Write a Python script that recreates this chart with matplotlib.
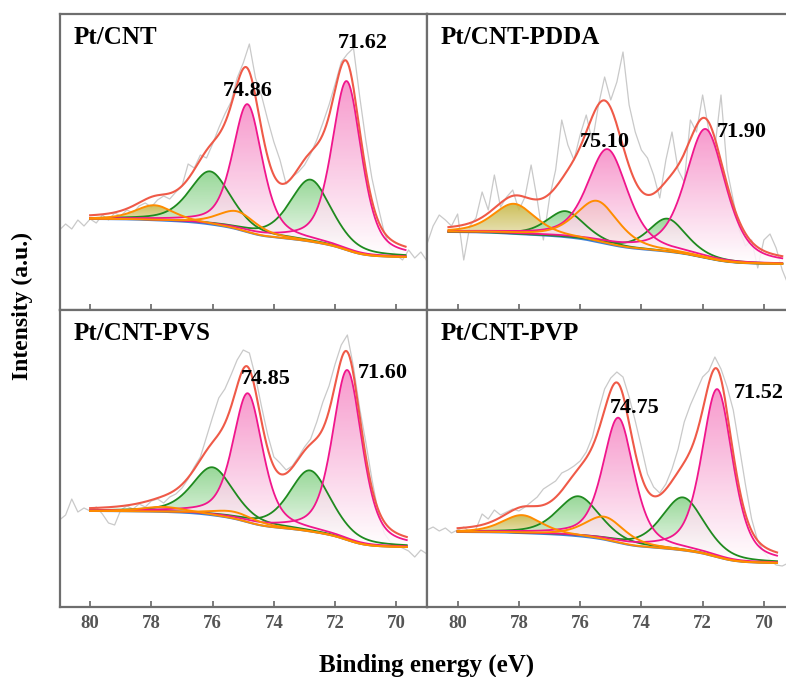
import numpy as np
import matplotlib
matplotlib.use('Agg')
import matplotlib.pyplot as plt
from matplotlib.colors import LinearSegmentedColormap

plt.rcParams['font.family'] = ['Liberation Serif', 'DejaVu Serif']
plt.rcParams['font.weight'] = 'bold'

samples = ['Pt/CNT', 'Pt/CNT-PDDA', 'Pt/CNT-PVS', 'Pt/CNT-PVP']

# fit window and Shirley background end levels
fit_hi = [80.0, 80.3, 80.0, 80.0]
fit_lo = [69.7, 69.4, 69.66, 69.57]
bg_hi = [91, 78, 96, 75]
bg_lo = [53, 46, 60, 44]

# Pt(0) 4f7/2 and 4f5/2 (pink)
pt0_a_pos = [71.62, 71.90, 71.60, 71.52]
pt0_a_h = [169, 129, 170, 168]
pt0_b_pos = [74.86, 75.10, 74.85, 74.75]
pt0_b_h = [128, 95, 129, 125]
pt0_w = [1.15, 1.55, 1.15, 1.2]

# Pt(II) (green)
pt2_a_pos = [72.80, 73.15, 72.82, 72.64]
pt2_a_h = [62, 33, 61, 53]
pt2_b_pos = [76.08, 76.47, 76.00, 76.05]
pt2_b_h = [53, 26, 48, 40]
pt2_w = [1.6, 1.45, 1.6, 1.65]

# Pt(IV) (orange)
pt4_a_pos = [75.20, 75.44, 75.30, 75.20]
pt4_a_h = [18, 41, 7, 23]
pt4_b_pos = [77.90, 78.16, 77.60, 77.90]
pt4_b_h = [15, 30, 5, 18]
pt4_w = [1.5, 1.65, 1.7, 1.55]

# raw spectra, 81.0 -> 69.0 eV every 0.2 eV
raw_be = np.linspace(81.0, 69.0, 61)
raw_cnt = [80, 86, 81, 90, 84, 91, 87, 95, 90, 97,
           94, 100, 97, 104, 107, 103, 110, 114, 111, 118,
           124, 146, 142, 155, 152, 166, 182, 196, 208, 232,
           247, 266, 232, 214, 190, 168, 150, 126, 133, 138,
           145, 156, 170, 187, 205, 226, 248, 256, 262, 214,
           170, 132, 104, 78, 62, 55, 50, 60, 52, 58, 49]
raw_pdda = [66, 84, 95, 90, 84, 96, 50, 84, 92, 118,
            100, 135, 103, 113, 120, 100, 113, 145, 110, 70,
            112, 140, 190, 165, 150, 175, 195, 168, 205, 233,
            210, 228, 258, 205, 178, 160, 152, 135, 112, 150,
            178, 140, 128, 190, 178, 215, 180, 162, 215, 140,
            110, 80, 64, 70, 42, 70, 76, 62, 40, 25, 10]
raw_pvs = [87, 92, 108, 95, 99, 96, 100, 93, 84, 82,
           97, 101, 98, 103, 100, 106, 108, 104, 110, 113,
           119, 128, 140, 150, 170, 190, 209, 218, 232, 247,
           257, 254, 230, 200, 172, 150, 144, 137, 141, 150,
           160, 168, 185, 205, 221, 243, 262, 272, 240, 199,
           165, 128, 96, 74, 65, 62, 59, 56, 50, 57, 53]
raw_pvp = [77, 80, 76, 79, 74, 77, 80, 75, 78, 93,
           88, 97, 92, 95, 98, 96, 100, 105, 110, 118,
           122, 126, 134, 137, 141, 146, 155, 170, 196, 218,
           229, 235, 230, 210, 186, 160, 133, 120, 114, 123,
           138, 158, 185, 202, 216, 230, 236, 250, 238, 220,
           197, 160, 122, 88, 66, 55, 47, 42, 41, 44, 40]
raw_all = [raw_cnt, raw_pdda, raw_pvs, raw_pvp]

# where the peak labels sit (eV, intensity)
lab_b_xy = [(74.84, 219), (75.21, 168), (74.26, 228), (74.23, 199)]
lab_a_xy = [(71.09, 267), (70.72, 178), (70.43, 234), (70.16, 214)]

ylims = [296, 296, 297, 297]


def pvoigt(e, c, h, w, eta=0.5):
    d = (e - c) / w
    return h * ((1 - eta) * np.exp(-4 * np.log(2) * d ** 2) + eta / (1 + 4 * d ** 2))


pink_cm = LinearSegmentedColormap.from_list('pk', ['#ffffff', '#f688c4'])
green_cm = LinearSegmentedColormap.from_list('gn', ['#ffffff', '#86d186'])
olive_cm = LinearSegmentedColormap.from_list('ol', ['#f6f2e0', '#c4b43c'])


def grad_fill(ax, e, base, top, cmap):
    poly = ax.fill_between(e, base, top, facecolor='none', edgecolor='none')
    m = (top - base) > 0.5
    y0, y1 = base[m].min(), top.max()
    grad = np.linspace(0, 1, 256).reshape(-1, 1)
    img = ax.imshow(grad, cmap=cmap, aspect='auto', origin='lower',
                    extent=[e.min(), e.max(), y0, y1], alpha=0.85, zorder=2)
    img.set_clip_path(poly.get_paths()[0], transform=ax.transData)


fig = plt.figure(figsize=(7.86, 6.77), dpi=100)
W = 367.5 / 786
pos = [(59.5 / 786, 367 / 677, W, 296 / 677),
       (427 / 786, 367 / 677, W, 296 / 677),
       (59.5 / 786, 70 / 677, W, 297 / 677),
       (427 / 786, 70 / 677, W, 297 / 677)]

for i in range(4):
    ax = fig.add_axes(pos[i])
    e = np.linspace(fit_lo[i], fit_hi[i], 700)

    comps = [
        (pvoigt(e, pt4_a_pos[i], pt4_a_h[i], pt4_w[i]), olive_cm, '#ff8c00'),
        (pvoigt(e, pt4_b_pos[i], pt4_b_h[i], pt4_w[i]), olive_cm, '#ff8c00'),
        (pvoigt(e, pt2_a_pos[i], pt2_a_h[i], pt2_w[i]), green_cm, '#1f8a1f'),
        (pvoigt(e, pt2_b_pos[i], pt2_b_h[i], pt2_w[i]), green_cm, '#1f8a1f'),
        (pvoigt(e, pt0_a_pos[i], pt0_a_h[i], pt0_w[i]), pink_cm, '#f0168c'),
        (pvoigt(e, pt0_b_pos[i], pt0_b_h[i], pt0_w[i]), pink_cm, '#f0168c'),
    ]
    total = sum(c[0] for c in comps)
    # Shirley-type step background
    cum = np.concatenate([[0], np.cumsum((total[1:] + total[:-1]) / 2 * np.diff(e))])
    bg = bg_lo[i] + (bg_hi[i] - bg_lo[i]) * cum / cum[-1]

    ax.plot(raw_be, raw_all[i], color='#c9c9c9', lw=0.9, zorder=1)

    for y, cm, col in comps:
        grad_fill(ax, e, bg, bg + y, cm)

    ax.plot(e, bg, color='#3d7fd6', lw=1.4, zorder=3)
    for y, cm, col in comps[2:]:
        ax.plot(e, bg + y, color=col, lw=1.3, zorder=4)
    for y, cm, col in comps[:2]:
        ax.plot(e, bg + y, color=col, lw=1.4, zorder=4.5)
    ax.plot(e, bg + total, color='#ef5a48', lw=1.5, zorder=5)

    ax.text(0.037, 0.922, samples[i], transform=ax.transAxes, fontsize=18,
            fontweight='bold', va='center', ha='left')
    ax.text(lab_b_xy[i][0], lab_b_xy[i][1], f'{pt0_b_pos[i]:.2f}', fontsize=16,
            fontweight='bold', ha='center', va='center', zorder=6)
    ax.text(lab_a_xy[i][0], lab_a_xy[i][1], f'{pt0_a_pos[i]:.2f}', fontsize=16,
            fontweight='bold', ha='center', va='center', zorder=6)

    ax.set_xlim(81, 69)
    ax.set_ylim(0, ylims[i])
    ax.set_xticks([80, 78, 76, 74, 72, 70])
    ax.set_yticks([])
    ax.tick_params(axis='x', direction='in', length=4.5, width=1.2, color='#666666',
                   labelsize=13.5, labelcolor='#555555', pad=6,
                   labelbottom=(i >= 2))
    for s in ax.spines.values():
        s.set_color('#6e6e6e')
        s.set_linewidth(1.6)

fig.text(0.028, 0.548, 'Intensity (a.u.)', rotation=90, fontsize=17,
         fontweight='bold', ha='center', va='center')
fig.text(0.543, 0.008, 'Binding energy (eV)', fontsize=18,
         fontweight='bold', ha='center', va='baseline')

fig.savefig('out.png', dpi=100)
